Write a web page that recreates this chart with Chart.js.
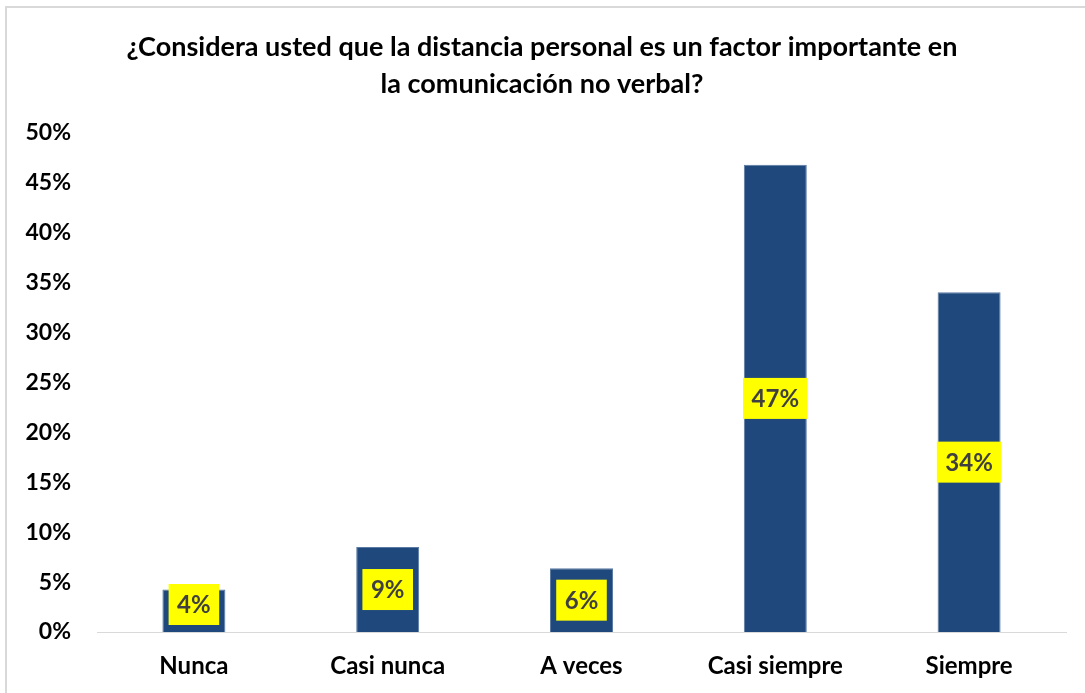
<!DOCTYPE html>
<html><head><meta charset="utf-8">
<script src="https://cdn.jsdelivr.net/npm/chart.js@4/dist/chart.umd.min.js"></script>
<style>html,body{margin:0;padding:0;background:#fff;overflow:hidden}#wrap{width:1085px;height:693px;position:relative}</style>
</head><body><div id="wrap"><canvas id="c" width="1085" height="693"></canvas></div>
<script>
const categories = ["Nunca", "Casi nunca", "A veces", "Casi siempre", "Siempre"];
const values = [4.26, 8.51, 6.38, 46.81, 34.04];
const valueLabels = ["4%", "9%", "6%", "47%", "34%"];
const titleLines = ["¿Considera usted que la distancia personal es un factor importante en", "la comunicación no verbal?"];
const FONT = "Lato, 'Open Sans', sans-serif";

const framePlugin = {
  id: 'frame',
  beforeDraw(chart) {
    const ctx = chart.ctx;
    ctx.save();
    ctx.fillStyle = '#fff';
    ctx.fillRect(0, 0, chart.width, chart.height);
    ctx.strokeStyle = '#d9d9d9';
    ctx.lineWidth = 2;
    ctx.strokeRect(6, 7, chart.width + 20, chart.height + 20);
    ctx.restore();
  }
};

const labelPlugin = {
  id: 'vlabels',
  afterDatasetsDraw(chart) {
    const ctx = chart.ctx;
    const meta = chart.getDatasetMeta(0);
    ctx.save();
    ctx.font = "bold 24px " + FONT;
    ctx.textAlign = 'center';
    ctx.textBaseline = 'middle';
    meta.data.forEach((bar, i) => {
      const txt = valueLabels[i];
      const w = ctx.measureText(txt).width + 17;
      const h = 41;
      let cy = (bar.y + bar.base) / 2;
      if (cy + h / 2 > bar.base - 7) cy = bar.base - 7 - h / 2;
      ctx.fillStyle = '#ffff00';
      ctx.fillRect(bar.x - w / 2, cy - h / 2, w, h);
      ctx.fillStyle = '#404040';
      ctx.fillText(txt, bar.x, cy + 1);
    });
    ctx.restore();
  }
};

new Chart(document.getElementById('c'), {
  type: 'bar',
  data: {
    labels: categories,
    datasets: [{
      data: values,
      backgroundColor: '#1F497D',
      borderColor: '#5a7aa3',
      borderWidth: 1,
      barPercentage: 0.325,
      categoryPercentage: 1.0
    }]
  },
  options: {
    responsive: false,
    animation: false,
    layout: { padding: { left: 18, right: 19, top: 0, bottom: 0 } },
    plugins: {
      legend: { display: false },
      tooltip: { enabled: false },
      title: {
        display: true,
        text: titleLines,
        color: '#000',
        font: { family: FONT, size: 27, weight: 'bold', lineHeight: 1.37 },
        padding: { top: 29, bottom: 30 }
      }
    },
    scales: {
      x: {
        grid: { display: false, drawTicks: false },
        border: { display: true, color: '#d9d9d9', width: 1 },
        ticks: { color: '#000', font: { family: FONT, size: 24, weight: 'bold' }, padding: 20 },
        afterFit(s) { s.height = 61; }
      },
      y: {
        min: 0, max: 50,
        grid: { display: false, drawTicks: false },
        border: { display: false },
        ticks: {
          stepSize: 5,
          color: '#000',
          font: { family: FONT, size: 23, weight: 'bold' },
          padding: 26,
          callback: v => v + '%'
        },
        afterFit(s) { s.width = 79; }
      }
    }
  },
  plugins: [framePlugin, labelPlugin]
});
</script>
</body></html>
